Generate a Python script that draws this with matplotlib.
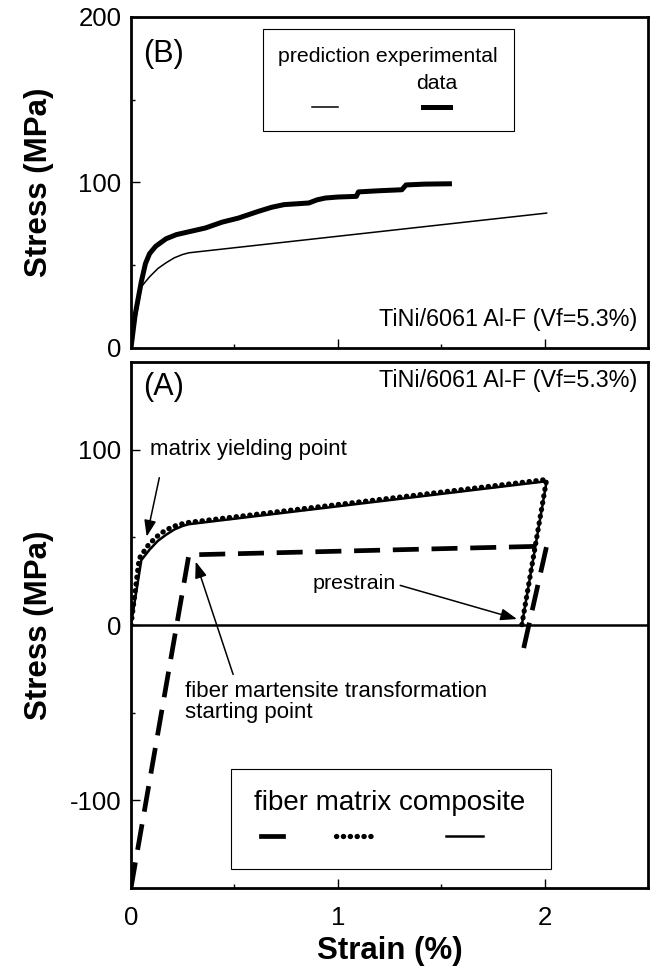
import matplotlib
matplotlib.use("Agg")
import matplotlib.pyplot as plt
from matplotlib.patches import Rectangle
from matplotlib.lines import Line2D

plt.rcParams['font.family'] = ['Liberation Sans', 'DejaVu Sans']
plt.rcParams['axes.unicode_minus'] = False

# ---------------- DATA ----------------
# panel (B): prediction vs experimental data
pred_x = [0, 0.05, 0.09, 0.13, 0.17, 0.21, 0.25, 0.28, 2.01]
pred_y = [0, 37, 43, 48, 51.5, 54.5, 56.5, 57.5, 81.5]

exp_x = [0, 0.02, 0.05, 0.07, 0.09, 0.12, 0.17, 0.22, 0.29, 0.36, 0.44, 0.52,
         0.615, 0.68, 0.74, 0.86, 0.90, 0.94, 1.00, 1.09, 1.10, 1.20, 1.31,
         1.33, 1.42, 1.54]
exp_y = [0, 20, 40, 51, 57, 61.5, 66, 68.5, 70.5, 72.5, 76, 78.5,
         82.5, 85, 86.6, 87.6, 89.5, 90.6, 91.2, 91.6, 94.3, 95, 95.6,
         98.5, 99, 99.2]

# panel (A): fiber / matrix / composite
fib_x = [0, 0.28, 2.01, 1.89]
fib_y = [-150, 40, 45, -18]

mat_x = [0, 0.04, 0.08, 0.12, 0.16, 0.20, 0.24, 0.28, 2.01, 1.89]
mat_y = [0, 38, 45, 50, 53.5, 56, 57.5, 58.5, 83, 0]

comp_x = [0, 0.05, 0.09, 0.13, 0.17, 0.21, 0.25, 0.28, 2.01, 1.89]
comp_y = [0, 37, 43, 48, 51.5, 54.5, 56.5, 57.5, 82, 0]

x_ticks = [0, 1, 2]
x_minor = [0.5, 1.5]

fig = plt.figure(figsize=(6.51, 9.69), dpi=100)
axB = fig.add_axes([0.2012, 0.6409, 0.7941, 0.3416])
axA = fig.add_axes([0.2012, 0.0836, 0.7941, 0.5428])

for ax in (axA, axB):
    ax.set_xlim(0, 2.5)
    ax.set_xticks(x_ticks)
    ax.set_xticks(x_minor, minor=True)
    for s in ax.spines.values():
        s.set_linewidth(2.0)
    ax.tick_params(which='both', direction='in', width=1.0, labelsize=18.5)
    ax.tick_params(which='major', length=6.5)
    ax.tick_params(which='minor', length=3.2)
    ax.tick_params(axis='y', pad=7)
    ax.tick_params(axis='x', pad=13)
    ax.set_ylabel('Stress (MPa)', fontsize=22.5, fontweight='bold')
    ax.yaxis.set_label_coords(-0.149, 0.5)

############################ PANEL B ##########################
axB.set_ylim(0, 200)
axB.set_yticks([0, 100, 200])
axB.set_yticks([50, 150], minor=True)
axB.tick_params(axis='x', labelbottom=False)

axB.plot(pred_x, pred_y, color='k', lw=1.1)
axB.plot(exp_x, exp_y, color='k', lw=3.6, solid_joinstyle='round')

axB.text(0.06, 177.8, '(B)', fontsize=22, va='center', ha='left')
axB.text(2.451, 17.1, 'TiNi/6061 Al-F (Vf=5.3%)', fontsize=16.8,
         va='center', ha='right')

# legend box (B)
axB.add_patch(Rectangle((0.255, 0.656), 0.486, 0.307, transform=axB.transAxes,
                        fill=False, edgecolor='k', lw=0.8))
axB.text(0.284, 0.880, 'prediction experimental', transform=axB.transAxes,
         fontsize=15.3, va='center', ha='left')
axB.text(0.591, 0.800, 'data', transform=axB.transAxes,
         fontsize=15.3, va='center', ha='center')
axB.add_line(Line2D([0.351, 0.400], [0.729, 0.729], transform=axB.transAxes,
                    color='k', lw=1.1))
axB.add_line(Line2D([0.565, 0.618], [0.729, 0.729], transform=axB.transAxes,
                    color='k', lw=3.6))

############################ PANEL A ##########################
axA.set_ylim(-150, 150)
axA.set_yticks([-100, 0, 100])
axA.set_yticks([-50, 50], minor=True)
axA.set_xlabel('Strain (%)', fontsize=22.5, fontweight='bold')
axA.xaxis.set_label_coords(0.501, -0.092)

axA.axhline(0, color='k', lw=1.8)

axA.plot(fib_x, fib_y, color='k', lw=3.4, dashes=(5.5, 2.7))
axA.plot(mat_x, mat_y, color='k', lw=3.8, dashes=(0.05, 1.25),
         dash_capstyle='round')
axA.plot(comp_x, comp_y, color='k', lw=1.8)

axA.text(0.06, 135.6, '(A)', fontsize=22, va='center', ha='left')
axA.text(2.451, 139.7, 'TiNi/6061 Al-F (Vf=5.3%)', fontsize=16.8,
         va='center', ha='right')

arrow = dict(arrowstyle='-|>,head_length=0.55,head_width=0.2', color='k',
             lw=1.1, mutation_scale=18, shrinkA=0, shrinkB=0)
axA.text(0.09, 100, 'matrix yielding point', fontsize=16, va='center', ha='left')
axA.annotate('', xy=(0.076, 50.4), xytext=(0.137, 84), arrowprops=arrow)

axA.text(0.88, 23.6, 'prestrain', fontsize=15.4, va='center', ha='left')
axA.annotate('', xy=(1.867, 3.4), xytext=(1.302, 22.6), arrowprops=arrow)

axA.text(0.262, -43.9, 'fiber martensite transformation\nstarting point',
         fontsize=16, va='center', ha='left', linespacing=1.05)
axA.annotate('', xy=(0.313, 36.2), xytext=(0.494, -28.2), arrowprops=arrow)

# legend box (A)
axA.add_patch(Rectangle((0.193, 0.036), 0.619, 0.190, transform=axA.transAxes,
                        fill=True, facecolor='white', edgecolor='k', lw=0.8,
                        zorder=3))
axA.text(0.5006, 0.161, 'fiber matrix composite', transform=axA.transAxes,
         fontsize=20, va='center', ha='center', zorder=4)
axA.add_line(Line2D([0.2515, 0.2935], [0.099, 0.099], transform=axA.transAxes,
                    color='k', lw=3.4, zorder=4))
axA.add_line(Line2D([0.3965, 0.466], [0.099, 0.099], transform=axA.transAxes,
                    color='k', lw=3.8, dashes=(0.05, 1.25),
                    dash_capstyle='round', zorder=4))
axA.add_line(Line2D([0.609, 0.680], [0.099, 0.099], transform=axA.transAxes,
                    color='k', lw=1.8, zorder=4))

plt.savefig('out.png', dpi=100)
